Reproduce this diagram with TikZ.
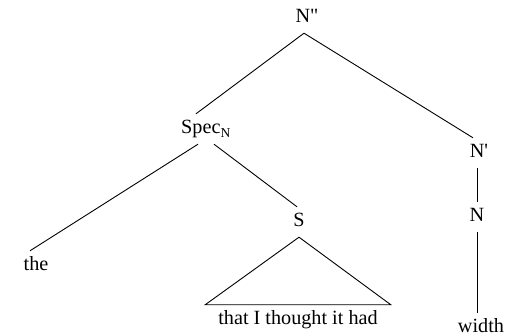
\documentclass[tikz,border=0pt]{standalone}
\usepackage{fontspec}
\setmainfont{Liberation Serif}[Ligatures=TeXOff]
\usetikzlibrary{positioning}

\tikzset{
  font=\fontsize{20.2}{23}\selectfont,
  cat/.style={inner xsep=0pt, inner ysep=6pt, text height=14pt, text depth=4pt},
  branch/.style={draw=black, line width=0.9pt},
}

\begin{document}
\begin{tikzpicture}[x=1pt, y=-1pt]
  \useasboundingbox (0,0) rectangle (515,336);

  \node[cat] (npp)   at (307,18)  {N"};
  \node[cat] (spec)  at (206,129) {Spec\textsubscript{\fontsize{13.5}{13}\selectfont N}};
  \node[cat] (the)   at (36,266)  {the};
  \node[cat] (s)     at (299,222) {S};
  \node[cat] (clause) at (298,320) {that I thought it had};
  \node[cat] (nbar)  at (479,153) {N'};
  \node[cat] (n)     at (477,217) {N};
  \node[cat] (width) at (481,328) {width};

  % upper branches
  \draw[branch] ([xshift=-3pt]npp.south) -- ([xshift=-10pt]spec.north);
  \draw[branch] ([xshift=-3pt]npp.south) -- ([xshift=-6pt]nbar.north);

  % under Spec
  \draw[branch] ([xshift=-8pt]spec.south) -- ([xshift=-6pt]the.north);
  \draw[branch] ([xshift=8pt]spec.south) -- ([xshift=-2pt]s.north);

  % triangle over the clause
  \draw[branch] (s.south) -- ([xshift=-13pt]clause.north west)
    -- ([xshift=13pt]clause.north east) -- cycle;

  % N' down to width
  \draw[branch] ([xshift=-2pt]nbar.south) -- (n.north);
  \draw[branch] (n.south) -- ([xshift=-4pt]width.north);
\end{tikzpicture}
\end{document}
